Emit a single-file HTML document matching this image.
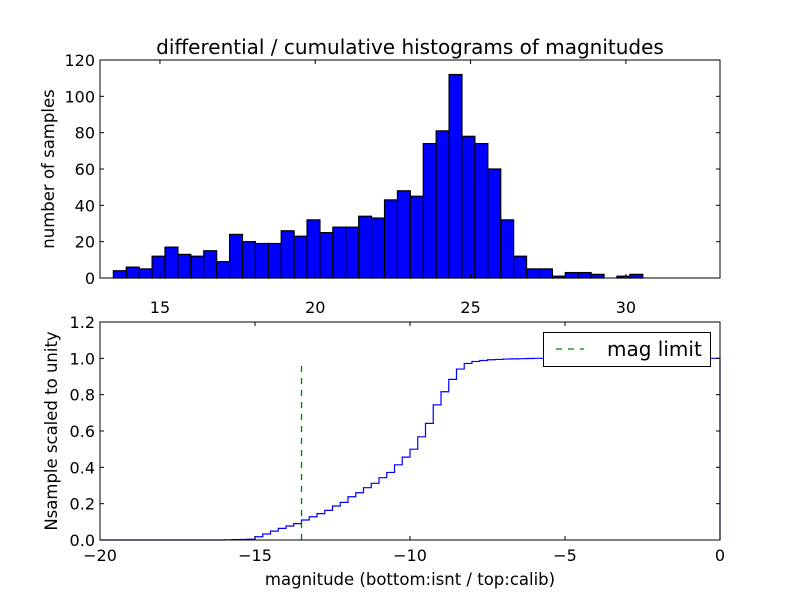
<!DOCTYPE html>
<html><head><meta charset="utf-8"><style>
body{margin:0;background:#fff;}
svg text{font-family:"DejaVu Sans","Liberation Sans",sans-serif;fill:#000;}
</style></head><body>
<svg id="chart" width="800" height="600" viewBox="0 0 800 600" xmlns="http://www.w3.org/2000/svg">
<rect width="800" height="600" fill="#fff"/>
<g id="topAxes"></g>
<g id="botAxes"></g>
</svg>
<script>
const histValues=[4,6,5,12,17,13,12,15,9,24,20,19,19,26,23,32,25,28,28,34,33,43,48,45,74,81,112,78,74,60,32,12,5,5,1,3,3,2,0,1,2];
const histStart=13.5;
const histBinWidth=0.4157;
const topXTicks=[15,20,25,30];
const topYTicks=[0,20,40,60,80,100,120];
const cumStart=-16;
const cumBinWidth=0.25;
const cumValues=[0.001,0.002,0.003,0.004,0.018,0.033,0.049,0.064,0.077,0.090,0.110,0.128,0.145,0.163,0.187,0.207,0.238,0.260,0.288,0.312,0.343,0.372,0.414,0.456,0.500,0.568,0.642,0.744,0.816,0.884,0.941,0.972,0.983,0.988,0.992,0.994,0.996,0.997,0.998,0.999,1.0];
const botXTicks=[-20,-15,-10,-5,0];
const botYTicks=[0.0,0.2,0.4,0.6,0.8,1.0,1.2];
const magLimit=-13.5;
const magLimitTop=0.97;

const NS="http://www.w3.org/2000/svg";
function mk(parent,tag,attrs,text){const e=document.createElementNS(NS,tag);for(const k in attrs)e.setAttribute(k,attrs[k]);if(text!==undefined)e.textContent=text;parent.appendChild(e);return e;}
const L=100,R=720;
const T0=60,T1=278;
const tx=v=>L+(v-13.07)*(R-L)/(33.03-13.07);
const ty=v=>T1-v*(T1-T0)/120;
const topG=document.getElementById('topAxes');
let el;
el=mk(topG,'text',{x:410,y:54,'text-anchor':'middle','font-size':20},'differential / cumulative histograms of magnitudes');


histValues.forEach((v,i)=>{
  const x0=tx(histStart+i*histBinWidth),x1=tx(histStart+(i+1)*histBinWidth);
  if(v<=0)return;
  const r=mk(topG,'rect',{x:x0,y:ty(v),width:x1-x0,height:ty(0)-ty(v),fill:'#0000ff',stroke:'#000','stroke-width':1.2});
  
  
});
el=mk(topG,'rect',{x:L,y:T0,width:R-L,height:T1-T0,fill:'none',stroke:'#000','stroke-width':1});


topXTicks.forEach(t=>{const x=tx(t);
  mk(topG,'line',{x1:x,x2:x,y1:T1,y2:T1-4,stroke:'#000'});mk(topG,'line',{x1:x,x2:x,y1:T0,y2:T0+4,stroke:'#000'});
  const e=mk(topG,'text',{x:x,y:T1+35,'text-anchor':'middle','font-size':16},t);
  
  });
topYTicks.forEach(t=>{const y=ty(t);
  mk(topG,'line',{x1:L,x2:L+4,y1:y,y2:y,stroke:'#000'});mk(topG,'line',{x1:R,x2:R-4,y1:y,y2:y,stroke:'#000'});
  const e=mk(topG,'text',{x:L-5,y:y+6,'text-anchor':'end','font-size':16},t);
  
  });
el=mk(topG,'text',{x:54,y:169,'text-anchor':'middle','font-size':16.5,transform:'rotate(-90 54 169)'},'number of samples');


const B0=322,B1=540;
const bx=v=>L+(v+20)*(R-L)/20;
const by=v=>B1-v*(B1-B0)/1.2;
const botG=document.getElementById('botAxes');
let d='M'+bx(-20)+','+by(0)+' L'+bx(cumStart)+','+by(0);
cumValues.forEach((v,i)=>{const x0=bx(cumStart+i*cumBinWidth),x1=bx(cumStart+(i+1)*cumBinWidth);d+=' L'+x0+','+by(v)+' L'+x1+','+by(v);});
d+=' L'+bx(0)+','+by(1.0)+' L'+bx(0)+','+by(0);
el=mk(botG,'path',{d:d,fill:'none',stroke:'#0000ff','stroke-width':1.2});


el=mk(botG,'line',{x1:bx(magLimit),x2:bx(magLimit),y1:by(0),y2:by(magLimitTop),stroke:'#008000','stroke-width':1.3,'stroke-dasharray':'6,6'});


el=mk(botG,'rect',{x:L,y:B0,width:R-L,height:B1-B0,fill:'none',stroke:'#000','stroke-width':1});


botXTicks.forEach(t=>{const x=bx(t);
  mk(botG,'line',{x1:x,x2:x,y1:B1,y2:B1-4,stroke:'#000'});mk(botG,'line',{x1:x,x2:x,y1:B0,y2:B0+4,stroke:'#000'});
  const e=mk(botG,'text',{x:x,y:B1+21,'text-anchor':'middle','font-size':16},t===0?'0':'\u2212'+Math.abs(t));
  
  });
botYTicks.forEach(t=>{const y=by(t);
  mk(botG,'line',{x1:L,x2:L+4,y1:y,y2:y,stroke:'#000'});mk(botG,'line',{x1:R,x2:R-4,y1:y,y2:y,stroke:'#000'});
  const e=mk(botG,'text',{x:L-5,y:y+6,'text-anchor':'end','font-size':16},t.toFixed(1));
  
  });
el=mk(botG,'text',{x:410,y:585,'text-anchor':'middle','font-size':16.5},'magnitude (bottom:isnt / top:calib)');


el=mk(botG,'text',{x:57,y:431,'text-anchor':'middle','font-size':16.5,transform:'rotate(-90 57 431)'},'Nsample scaled to unity');


const lg=mk(botG,'g',{});


mk(lg,'rect',{x:543.5,y:332.5,width:167,height:34,fill:'#fff',stroke:'#000','stroke-width':1});
mk(lg,'line',{x1:556,x2:584,y1:349,y2:349,stroke:'#008000','stroke-width':1.3,'stroke-dasharray':'6,6'});
el=mk(lg,'text',{x:607,y:356,'font-size':20},'mag limit');


</script>
</body></html>
